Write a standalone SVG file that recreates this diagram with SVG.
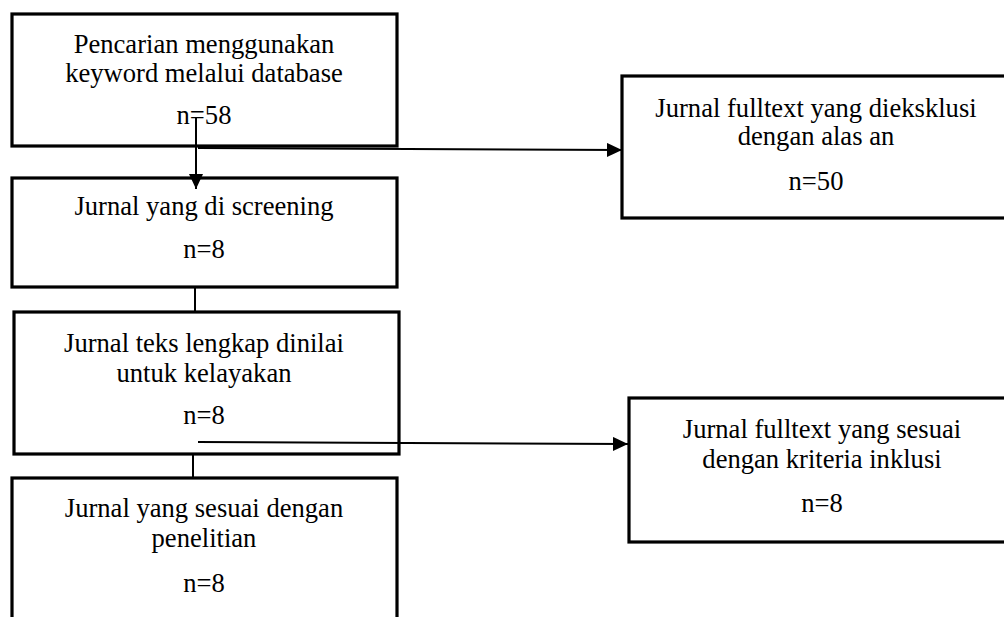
<svg xmlns="http://www.w3.org/2000/svg" width="1004" height="617" viewBox="0 0 1004 617">
  <style>
    .box { fill: #ffffff; stroke: #000000; stroke-width: 3.2; }
    .lbl { font-family: "Liberation Serif", "Times New Roman", serif; font-size: 26.6px; fill: #000000; text-anchor: middle; }
    .conn { stroke: #000000; stroke-width: 2; fill: none; }
  </style>
  <defs>
    <marker id="arrow" markerUnits="userSpaceOnUse" markerWidth="16" markerHeight="14" refX="15" refY="7" orient="auto">
      <polygon points="0,0 15,7 0,14" fill="#000000"/>
    </marker>
  </defs>
  <rect x="0" y="0" width="1004" height="617" fill="#ffffff"/>

  <g id="node-search">
    <rect class="box" x="12" y="14" width="385" height="132"/>
    <text class="lbl" x="204" y="53">Pencarian menggunakan</text>
    <text class="lbl" x="204" y="82">keyword melalui database</text>
    <text class="lbl" x="204" y="124">n=58</text>
  </g>

  <g id="node-screening">
    <rect class="box" x="12" y="178" width="385" height="109"/>
    <text class="lbl" x="204" y="215">Jurnal yang di screening</text>
    <text class="lbl" x="204" y="258">n=8</text>
  </g>

  <g id="node-eligibility">
    <rect class="box" x="14" y="312" width="385" height="142"/>
    <text class="lbl" x="204" y="352">Jurnal teks lengkap dinilai</text>
    <text class="lbl" x="204" y="382">untuk kelayakan</text>
    <text class="lbl" x="204" y="424">n=8</text>
  </g>

  <g id="node-included">
    <rect class="box" x="12" y="478" width="385" height="160"/>
    <text class="lbl" x="204" y="517">Jurnal yang sesuai dengan</text>
    <text class="lbl" x="204" y="547">penelitian</text>
    <text class="lbl" x="204" y="592">n=8</text>
  </g>

  <g id="node-excluded">
    <rect class="box" x="622" y="76" width="400" height="142"/>
    <text class="lbl" x="816" y="117">Jurnal fulltext yang dieksklusi</text>
    <text class="lbl" x="816" y="145">dengan alas an</text>
    <text class="lbl" x="816" y="190">n=50</text>
  </g>

  <g id="node-inclusion">
    <rect class="box" x="629" y="398" width="400" height="144"/>
    <text class="lbl" x="822" y="438">Jurnal fulltext yang sesuai</text>
    <text class="lbl" x="822" y="468">dengan kriteria inklusi</text>
    <text class="lbl" x="822" y="512">n=8</text>
  </g>

  <g id="connectors">
    <line class="conn" x1="196" y1="117" x2="196" y2="189" marker-end="url(#arrow)"/>
    <line class="conn" x1="198" y1="148" x2="622" y2="150" marker-end="url(#arrow)"/>
    <line class="conn" x1="195" y1="287" x2="195" y2="312"/>
    <line class="conn" x1="198" y1="442" x2="628" y2="444" marker-end="url(#arrow)"/>
    <line class="conn" x1="193" y1="454" x2="193" y2="478"/>
  </g>
</svg>
